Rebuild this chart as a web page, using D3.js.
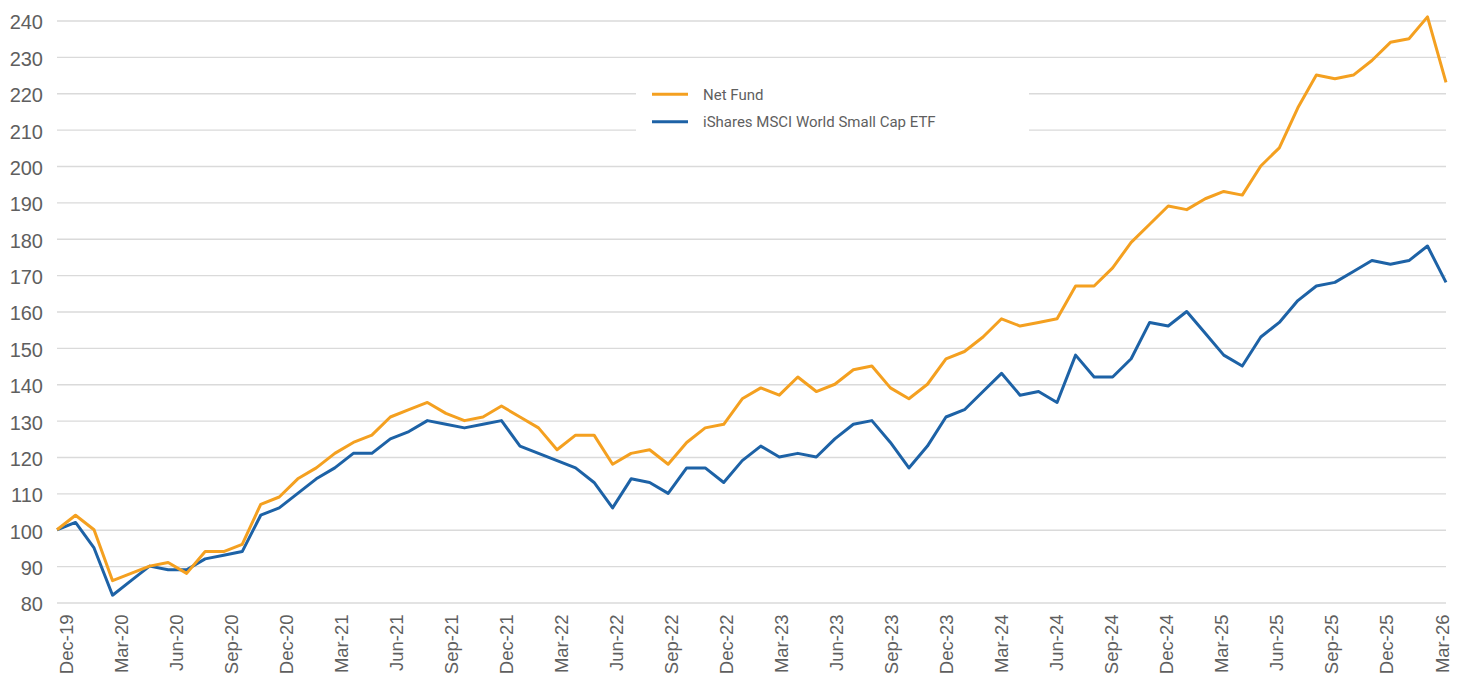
<!DOCTYPE html>
<html>
<head>
<meta charset="utf-8">
<script src="https://cdn.jsdelivr.net/npm/d3@7"></script>
<style>
  body { margin: 0; background: #fff; }
  svg { display: block; font-family: Roboto, "Open Sans", sans-serif; }
  .tick text { fill: #5f5f5f; }
</style>
</head>
<body>
<svg id="chart" width="1462" height="682"></svg>
<script>
// month labels Dec-19 .. Mar-26
const months = d3.timeMonth.range(new Date(2019, 11, 1), new Date(2026, 3, 1))
    .map(d3.timeFormat("%b-%y"));

const netFund = [100, 104, 100, 86, 88, 90, 91, 88, 94, 94, 96, 107, 109, 114, 117, 121,
    124, 126, 131, 133, 135, 132, 130, 131, 134, 131, 128, 122, 126, 126, 118, 121,
    122, 118, 124, 128, 129, 136, 139, 137, 142, 138, 140, 144, 145, 139, 136, 140,
    147, 149, 153, 158, 156, 157, 158, 167, 167, 172, 179, 184, 189, 188, 191, 193,
    192, 200, 205, 216, 225, 224, 225, 229, 234, 235, 241, 223];

const ishares = [100, 102, 95, 82, 86, 90, 89, 89, 92, 93, 94, 104, 106, 110, 114, 117,
    121, 121, 125, 127, 130, 129, 128, 129, 130, 123, 121, 119, 117, 113, 106, 114,
    113, 110, 117, 117, 113, 119, 123, 120, 121, 120, 125, 129, 130, 124, 117, 123,
    131, 133, 138, 143, 137, 138, 135, 148, 142, 142, 147, 157, 156, 160, 154, 148,
    145, 153, 157, 163, 167, 168, 171, 174, 173, 174, 178, 168];

const yTicks = d3.range(80, 241, 10);
const xTicks = months.filter((m, i) => i % 3 === 0);

const series = [
    {name: "iShares MSCI World Small Cap ETF", values: ishares, color: "#1D62A6"},
    {name: "Net Fund", values: netFund, color: "#F4A020"}
];

let margin = {top: 20.5, right: 16, bottom: 79.5, left: 57};
let width = 1462 - margin.left - margin.right;
let height = 682 - margin.top - margin.bottom;

let svg = d3.select("#chart")
    .append("g")
    .attr("transform", `translate(${margin.left}, ${margin.top})`);

let x = d3.scalePoint()
    .domain(months)
    .range([0, width]);

// labels sit on a slightly tighter spread than the data points
let xLabel = d3.scalePoint()
    .domain(months)
    .range([0, width - 13]);

let y = d3.scaleLinear()
    .domain([80, 240])
    .range([height, 0]);

// y axis + gridlines
let yAxis = svg.append("g")
    .call(d3.axisLeft(y)
        .tickValues(yTicks)
        .tickSize(-width)
        .tickPadding(14));
yAxis.select(".domain").remove();
yAxis.selectAll(".tick line")
    .style("stroke", "#dadada")
    .style("stroke-width", "1.3px");
yAxis.selectAll(".tick text")
    .style("font-size", "20px")
    .attr("dy", "0.42em");

// x axis, rotated labels
let xAxis = svg.append("g")
    .attr("transform", `translate(0,${height})`)
    .call(d3.axisBottom(xLabel).tickValues(xTicks).tickSize(0));
xAxis.select(".domain").remove();
xAxis.selectAll(".tick text")
    .style("font-size", "18.5px")
    .style("text-anchor", "end")
    .attr("x", -12)
    .attr("y", 0)
    .attr("dy", 15)
    .attr("transform", "rotate(-90)");

// legend box (covers gridlines)
let legend = svg.append("g")
    .attr("transform", `translate(${636 - margin.left}, ${78 - margin.top})`);

legend.append("rect")
    .attr("width", 393)
    .attr("height", 62)
    .attr("fill", "#fff");

let legendItems = [series[1], series[0]];
legendItems.forEach((s, i) => {
    let row = legend.append("g")
        .attr("transform", `translate(0, ${16.3 + i * 27.4})`);
    row.append("line")
        .attr("x1", 16)
        .attr("x2", 52)
        .attr("stroke", s.color)
        .attr("stroke-width", 3);
    row.append("text")
        .attr("x", 67)
        .attr("dy", "0.35em")
        .style("font-size", "15px")
        .style("fill", "#5f5f5f")
        .text(s.name);
});

// lines
let line = d3.line()
    .x((d, i) => x(months[i]))
    .y(d => y(d));

svg.selectAll(".series")
    .data(series)
    .join("path")
    .attr("class", "series")
    .attr("d", d => line(d.values))
    .attr("fill", "none")
    .attr("stroke", d => d.color)
    .attr("stroke-width", 3)
    .attr("stroke-linejoin", "round");
</script>
</body>
</html>
